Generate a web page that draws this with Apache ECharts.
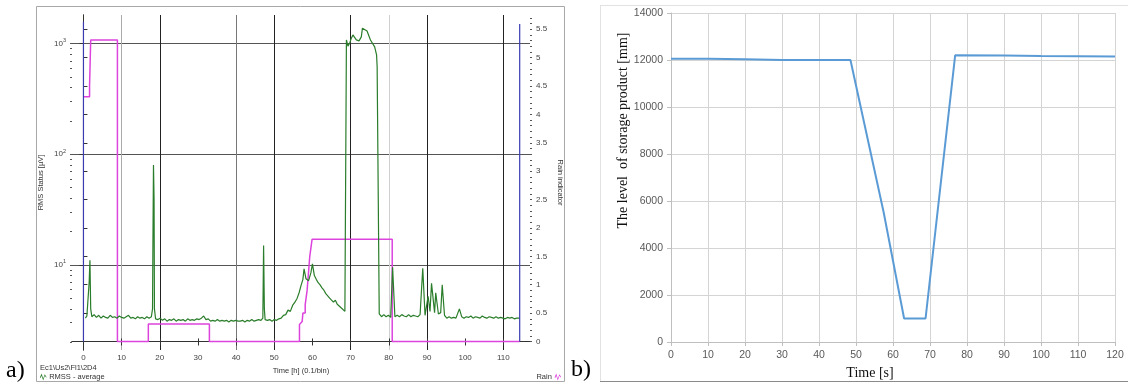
<!DOCTYPE html>
<html><head><meta charset="utf-8">
<script src="https://cdn.jsdelivr.net/npm/echarts@6/dist/echarts.min.js"></script>
<style>html,body{margin:0;padding:0;background:#fff}#c{width:1128px;height:387px}</style>
</head><body><div id="c"></div>
<script>
// ---------- Panel a data ----------
const timeTicksA = [0, 10, 20, 30, 40, 50, 60, 70, 80, 90, 100, 110];
const rainTicks = [0, 0.5, 1, 1.5, 2, 2.5, 3, 3.5, 4, 4.5, 5, 5.5];
// RMSS - average [µV] (time h, value)
const rmsTime = [0.5,0.9,1.2,1.5,1.7,1.9,2.2,2.8,3.4,4.0,4.6,5.2,5.8,6.4,7.0,7.6,8.2,8.8,9.4,10.0,10.6,11.2,11.8,12.4,13.0,13.6,14.2,14.8,15.4,16.0,16.6,17.2,17.8,18.1,18.2,18.35,18.5,18.6,18.9,19.5,20.1,20.7,21.3,21.9,22.5,23.1,23.7,24.3,24.9,25.5,26.1,26.7,27.3,27.9,28.5,29.1,29.7,30.3,30.9,31.5,32.1,32.7,33.3,33.9,34.5,35.1,35.7,36.3,36.9,37.5,38.1,38.7,39.3,39.9,40.5,41.1,41.7,42.3,42.9,43.5,44.1,44.7,45.3,45.9,46.5,47.0,47.2,47.4,47.6,48.2,48.8,49.4,50.0,50.6,51.2,51.8,52.4,53.0,53.6,54.2,54.8,55.4,56.0,56.5,57.0,57.5,57.8,58.3,59.0,59.6,60.0,60.5,61.0,61.5,62.0,62.5,63.0,63.5,64.0,64.5,65.0,65.5,66.0,66.5,67.0,67.5,68.0,68.5,68.6,68.9,69.3,69.8,70.1,70.6,71.5,72.2,72.8,73.1,73.6,74.3,75.2,76.3,76.8,76.95,77.5,78.1,78.7,79.3,79.9,80.5,80.8,81.0,81.6,82.2,82.8,83.4,84.0,84.6,85.2,85.8,86.4,87.0,87.6,88.2,88.6,88.9,89.5,90.0,90.3,90.8,91.2,92.0,92.3,93.0,93.6,94.0,94.6,95.2,95.8,96.4,97.0,97.6,98.1,98.5,99.1,99.7,100.3,100.9,101.5,102.1,102.7,103.3,103.9,104.5,105.1,105.7,106.3,106.9,107.5,108.1,108.7,109.3,109.9,110.5,111.1,111.7,112.3,112.9,113.5,114.3];
const rmsValue = [3.3,3.45,3.4,7,11,4,3.4,3.55,3.35,3.5,3.3,3.45,3.35,3.3,3.5,3.35,3.4,3.3,3.45,3.35,3.3,3.4,3.5,3.3,3.35,3.25,3.4,3.3,3.35,3.25,3.4,3.3,3.4,4,15,80,40,4,3.25,3.2,3.3,3.15,3.25,3.1,3.2,3.15,3.25,3.1,3.2,3.15,3.2,3.1,3.25,3.15,3.2,3.15,3.25,3.2,3.3,3.45,3.2,3.25,3.1,3.15,3.1,3.2,3.1,3.15,3.1,3.15,3.05,3.15,3.1,3.15,3.1,3.1,3.15,3.05,3.15,3.1,3.2,3.1,3.15,3.2,3.15,3.3,15,4,3.2,3.15,3.2,3.1,3.2,3.15,3.25,3.3,3.5,3.55,3.9,3.8,4.3,4.6,5.0,5.6,6.5,7.4,9.2,7.5,7.2,8.5,10.2,8.0,7.4,6.9,6.6,6.2,5.9,5.5,5.4,5.0,5.0,4.6,4.8,4.4,4.5,4.1,4.2,3.8,3.7,1080,950,1020,1100,1200,1080,1060,1150,1380,1420,1300,1080,935,790,620,3.6,3.4,3.55,3.4,3.5,3.35,3.45,9.5,3.4,3.5,3.4,3.55,3.45,3.4,3.55,3.4,3.5,3.45,3.4,3.55,3.5,9.3,3.5,3.6,5.2,3.8,6.8,3.7,5.6,3.6,3.7,6.6,3.5,3.3,3.4,3.3,3.35,3.3,3.4,4.0,3.4,3.3,3.4,3.35,3.45,3.3,3.4,3.35,3.3,3.45,3.35,3.3,3.4,3.35,3.3,3.4,3.3,3.35,3.3,3.25,3.35,3.3,3.35,3.25,3.3,3.3];
// Rain indicator (time h, value)
const rainTime = [0,1.6,1.6,1.9,8.9,8.9,17.0,17.0,33.0,33.0,56.6,56.6,57.3,57.5,58.1,58.1,58.6,58.6,59.3,59.9,80.9,80.9,114.3];
const rainValue = [4.31,4.31,4.5,5.31,5.31,0,0,0.31,0.31,0,0,0.3,0.35,0.5,0.5,0.65,0.65,0.9,1.5,1.8,1.8,0,0];
// blue marker lines (time h, rain-axis top)
const markerTime = [0, 114.3];
const markerTop = [5.63, 5.59];

// ---------- Panel b data ----------
const timeB = [0, 10, 20, 30, 40, 48.5, 57.5, 63, 68.8, 76.8, 90, 100, 110, 120];
const levelB = [12050, 12050, 12030, 12000, 12000, 12000, 5500, 1000, 1000, 12200, 12190, 12170, 12160, 12150];

// ---------- build ----------
const zip = (a, b) => a.map((v, i) => [v, b[i]]);
const rmsData = zip(rmsTime, rmsValue);
const rainData = zip(rainTime, rainValue);
const minorRain = [];
for (let v = 0; v <= 5.7001; v += 0.1) minorRain.push(+v.toFixed(1));
const minorLog = [];
[1, 10, 100, 1000].forEach(d => { for (let k = 1; k <= 9; k++) { const v = k * d; if (v >= 1.7 && v <= 1815) minorLog.push(Math.log10(v)); } });

const gridColorsA = ['#888', '#aaa', '#222', 'rgba(0,0,0,0)', '#777', '#222', 'rgba(0,0,0,0)', '#222', '#cfcfcf', '#222', 'rgba(0,0,0,0)', '#222'];
const fA = 'Liberation Sans';
const serif = 'Liberation Serif';
const wave = 'path://M0,7 L2.5,1 L5,9 L7.5,2 L10,6 L10,7.5 L7.6,4.5 L5,12 L2.4,4.5 L0.8,8.5 Z';

const chart = echarts.init(document.getElementById('c'));
chart.setOption({
  animation: false,
  backgroundColor: '#fff',
  graphic: [
    { type: 'rect', shape: { x: 36.5, y: 6.5, width: 528, height: 375 }, style: { fill: 'none', stroke: '#a8a8a8', lineWidth: 1 }, z: -1 },
    { type: 'line', shape: { x1: 600, y1: 5.5, x2: 1128, y2: 5.5 }, style: { stroke: '#e2e2e2', lineWidth: 1 } },
    { type: 'line', shape: { x1: 600.5, y1: 5.5, x2: 600.5, y2: 381.5 }, style: { stroke: '#e2e2e2', lineWidth: 1 } },
    { type: 'line', shape: { x1: 600, y1: 381.5, x2: 1128, y2: 381.5 }, style: { stroke: '#8a8a8a', lineWidth: 1 } }
  ],
  title: [
    { text: 'a)', left: 6, top: 359, padding: 0, textStyle: { fontFamily: serif, fontSize: 24, fontWeight: 'normal', color: '#000' } },
    { text: 'b)', left: 571, top: 358, padding: 0, textStyle: { fontFamily: serif, fontSize: 24, fontWeight: 'normal', color: '#000' } },
    { text: 'Ec1\\Us2\\Fl1\\2D4', left: 40, top: 364, padding: 0, textStyle: { fontFamily: fA, fontSize: 7.5, fontWeight: 'normal', color: '#333' } }
  ],
  legend: [
    { data: ['RMSS - average'], left: 40, top: 373, padding: 0, itemWidth: 8, itemHeight: 7, itemGap: 2, icon: wave,
      textStyle: { fontFamily: fA, fontSize: 7.5, color: '#333', padding: [0, 0, 0, -3] } },
    { data: ['Rain'], right: 567, top: 373, padding: 0, align: 'right', itemWidth: 8, itemHeight: 7, icon: wave,
      textStyle: { fontFamily: fA, fontSize: 7.5, color: '#333', padding: [0, -3, 0, 0] } }
  ],
  grid: [
    { left: 72, top: 15, right: 598, bottom: 37 },
    { left: 671, top: 13, right: 13, bottom: 45 }
  ],
  xAxis: [
    { gridIndex: 0, type: 'value', min: -3, max: 117, position: 'bottom',
      name: 'Time [h] (0.1/bin)', nameLocation: 'middle', nameGap: 14,
      nameTextStyle: { fontFamily: fA, fontSize: 7.5, color: '#333' },
      axisLine: { lineStyle: { color: '#333', width: 1 } },
      axisTick: { customValues: timeTicksA, length: 4, lineStyle: { color: '#333' } },
      axisLabel: { customValues: timeTicksA, fontFamily: fA, fontSize: 8, color: '#444', margin: 4 },
      splitLine: { show: true, lineStyle: { color: gridColorsA, width: 1 } } },
    { gridIndex: 0, type: 'value', min: -3, max: 117, position: 'top',
      axisLine: { lineStyle: { color: '#333', width: 1 } },
      axisTick: { customValues: timeTicksA, length: 3, lineStyle: { color: '#333' } },
      axisLabel: { show: false }, splitLine: { show: false } },
    { gridIndex: 1, type: 'value', min: 0, max: 120, interval: 10,
      name: 'Time [s]', nameLocation: 'middle', nameGap: 22,
      nameTextStyle: { fontFamily: serif, fontSize: 14, color: '#111', padding: [0, 46, 0, 0] },
      axisLine: { lineStyle: { color: '#bfbfbf' } },
      axisTick: { show: true, length: 4, lineStyle: { color: '#bfbfbf' } },
      axisLabel: { fontFamily: fA, fontSize: 10.5, color: '#595959', margin: 8 },
      splitLine: { show: true, lineStyle: { color: '#d4d4d4' } } }
  ],
  yAxis: [
    { gridIndex: 0, type: 'log', logBase: 10, min: 1.7, max: 1815, position: 'left',
      name: 'RMS Status [µV]', nameLocation: 'middle', nameGap: 27,
      nameTextStyle: { fontFamily: fA, fontSize: 7.5, color: '#333' },
      axisLine: { show: true, lineStyle: { color: '#333' } },
      axisTick: { show: true, length: 4, lineStyle: { color: '#333' } },
      axisLabel: { showMinLabel: false, showMaxLabel: false, fontFamily: fA, fontSize: 8, color: '#444', margin: 6,
        formatter: v => '10{e|' + Math.round(Math.log10(v)) + '}',
        rich: { e: { fontSize: 5.5, fontFamily: fA, color: '#444', padding: [0, 0, 6, 0] } } },
      splitLine: { show: true, showMinLine: false, showMaxLine: false, lineStyle: { color: '#555', width: 1 } } },
    { gridIndex: 0, type: 'value', min: -0.15, max: 5.75, position: 'right',
      name: 'Rain indicator', nameLocation: 'middle', nameGap: 26, nameRotate: -90,
      nameTextStyle: { fontFamily: fA, fontSize: 7.5, color: '#333' },
      axisLine: { show: true, lineStyle: { color: '#333' } },
      axisTick: { show: true, customValues: rainTicks, length: 4, lineStyle: { color: '#333' } },
      axisLabel: { customValues: rainTicks, fontFamily: fA, fontSize: 8, color: '#444', margin: 6 },
      splitLine: { show: false } },
    { gridIndex: 1, type: 'value', min: 0, max: 14000, interval: 2000,
      name: 'The level  of storage product [mm]', nameLocation: 'middle', nameGap: 41, nameRotate: 90,
      nameTextStyle: { fontFamily: serif, fontSize: 14, color: '#111', padding: [0, 0, 0, 94] },
      axisLine: { show: true, lineStyle: { color: '#bfbfbf' } },
      axisTick: { show: true, length: 4, lineStyle: { color: '#bfbfbf' } },
      axisLabel: { fontFamily: fA, fontSize: 10.5, color: '#595959', margin: 8, formatter: v => String(v) },
      splitLine: { show: true, lineStyle: { color: '#d4d4d4' } } },
    // minor tick overlays
    { gridIndex: 0, type: 'value', min: -0.15, max: 5.75, position: 'right',
      axisLine: { show: false }, axisLabel: { show: false }, splitLine: { show: false },
      axisTick: { show: true, customValues: minorRain, length: 2, lineStyle: { color: '#555' } } },
    { gridIndex: 0, type: 'value', min: Math.log10(1.7), max: Math.log10(1815), position: 'left',
      axisLine: { show: false }, axisLabel: { show: false }, splitLine: { show: false },
      axisTick: { show: true, customValues: minorLog, length: 2, lineStyle: { color: '#555' } } }
  ],
  series: [
    { name: 'RMSS - average', type: 'line', xAxisIndex: 0, yAxisIndex: 0, data: rmsData, showSymbol: false,
      color: '#2a7d2a', lineStyle: { color: '#2a7d2a', width: 1.2 }, z: 3 },
    { name: 'Rain', type: 'line', xAxisIndex: 0, yAxisIndex: 1, data: rainData, showSymbol: false,
      color: '#dd44dd', lineStyle: { color: '#dd44dd', width: 1.5 }, z: 2 },
    { name: 'marker0', type: 'line', xAxisIndex: 0, yAxisIndex: 1, data: [[markerTime[0], 0], [markerTime[0], markerTop[0]]],
      showSymbol: false, lineStyle: { color: '#3b3bb0', width: 1.2 }, z: 4 },
    { name: 'marker1', type: 'line', xAxisIndex: 0, yAxisIndex: 1, data: [[markerTime[1], 0], [markerTime[1], markerTop[1]]],
      showSymbol: false, lineStyle: { color: '#3b3bb0', width: 1.2 }, z: 4 },
    { name: 'level', type: 'line', xAxisIndex: 2, yAxisIndex: 2, data: zip(timeB, levelB), showSymbol: false,
      lineStyle: { color: '#5b9bd5', width: 2 }, color: '#5b9bd5' }
  ]
});
</script>
</body></html>
